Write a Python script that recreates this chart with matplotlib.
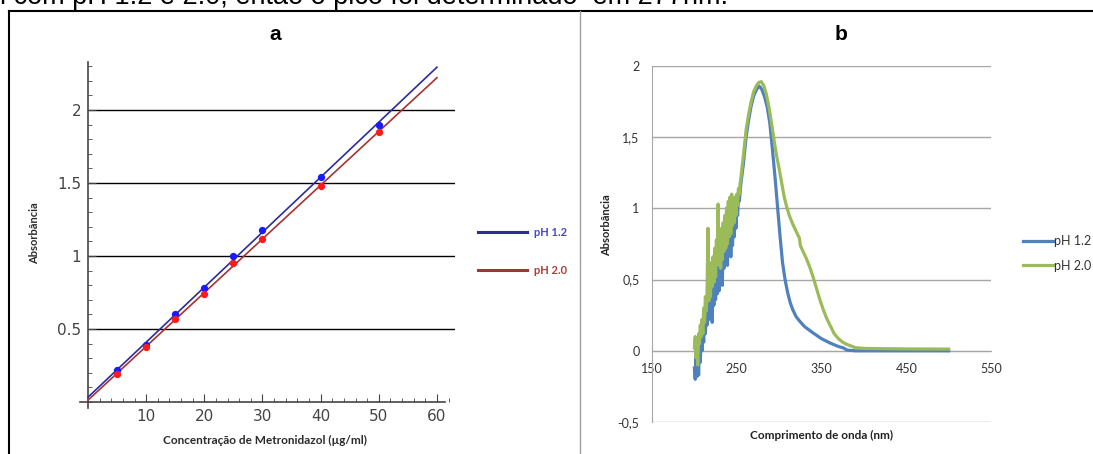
import numpy as np
import matplotlib
matplotlib.use("Agg")
import matplotlib.pyplot as plt
from matplotlib.lines import Line2D
from matplotlib.ticker import MultipleLocator, FuncFormatter

# --- panel a: calibration curve
conc = [5, 10, 15, 20, 25, 30, 40, 50]
abs_ph12 = [0.22, 0.39, 0.60, 0.78, 1.00, 1.18, 1.54, 1.90]
abs_ph20 = [0.19, 0.38, 0.57, 0.74, 0.95, 1.12, 1.48, 1.85]

# --- panel b: UV spectra
wl_noisy = list(range(200, 255))
blue_noisy = [-0.12, -0.20, -0.05, -0.18, 0.02, -0.17, 0.05, -0.08, 0.12, 0.00,
              0.18, 0.06, 0.25, 0.12, 0.30, 0.18, 0.35, 0.22, 0.40, 0.26,
              0.44, 0.20, 0.48, 0.32, 0.55, 0.36, 0.62, 0.40, 0.66, 0.42,
              0.72, 0.52, 0.78, 0.46, 0.84, 0.58, 0.92, 0.62, 1.00, 0.60,
              0.88, 0.70, 0.95, 0.66, 0.92, 0.74, 0.98, 0.80, 1.02, 0.86,
              1.05, 0.95, 1.08, 1.05, 1.12]
green_noisy = [0.02, 0.10, -0.05, 0.08, -0.10, 0.12, 0.05, 0.18, 0.10, 0.22,
               0.12, 0.30, 0.20, 0.38, 0.28, 0.42, 0.86, 0.35, 0.55, 0.38,
               0.62, 0.45, 0.66, 0.48, 0.72, 0.52, 0.78, 0.60, 1.03, 0.62,
               0.82, 0.58, 0.86, 0.64, 0.90, 0.70, 0.95, 0.72, 1.00, 0.75,
               1.05, 0.80, 1.08, 0.82, 1.10, 0.88, 1.06, 0.90, 1.08, 0.95,
               1.10, 1.02, 1.14, 1.10, 1.18]

wl_blue_smooth = [255, 258, 261, 264, 267, 270, 273, 276, 278, 280, 283, 286, 289,
                  292, 295, 298, 301, 304, 307, 310, 313, 316, 320, 324, 330, 339,
                  350, 360, 370, 376, 380, 390, 400, 450, 500]
blue_smooth = [1.18, 1.32, 1.50, 1.62, 1.72, 1.79, 1.83, 1.86, 1.85, 1.83, 1.78, 1.71, 1.60,
               1.42, 1.23, 1.02, 0.81, 0.62, 0.50, 0.41, 0.34, 0.29, 0.24, 0.21, 0.17, 0.13,
               0.085, 0.055, 0.03, 0.02, 0.005, 0.0, 0.0, 0.0, 0.0]

wl_green_smooth = [255, 258, 261, 264, 267, 270, 273, 276, 279, 282, 285, 288, 291,
                   294, 297, 300, 303, 306, 309, 312, 316, 320, 324, 325, 328, 332,
                   336, 340, 344, 348, 352, 356, 360, 365, 370, 375, 380, 390, 400,
                   420, 450, 500]
green_smooth = [1.22, 1.38, 1.55, 1.66, 1.75, 1.82, 1.86, 1.885, 1.89, 1.86, 1.80, 1.71, 1.60,
                1.48, 1.37, 1.28, 1.18, 1.08, 1.01, 0.95, 0.89, 0.84, 0.79, 0.74, 0.70, 0.65,
                0.59, 0.52, 0.44, 0.36, 0.29, 0.23, 0.18, 0.12, 0.085, 0.06, 0.045, 0.022, 0.017,
                0.015, 0.013, 0.012]

wl_blue = wl_noisy + wl_blue_smooth
a_blue = blue_noisy + blue_smooth
wl_green = wl_noisy + wl_green_smooth
a_green = green_noisy + green_smooth

W, H = 1093, 454
fig = plt.figure(figsize=(W / 100, H / 100), dpi=100)

def fx(px):
    return px / W

def fy(py):
    return 1 - py / H

# frame and top text (cut off at the top, as in the source page)
fig.text(0, fy(4), "l com pH 1.2 e 2.0, então o pico foi determinado  em 277nm.",
         fontsize=19.5, family="Liberation Sans", va="baseline", ha="left")
fig.add_artist(Line2D([fx(9), 1], [fy(11), fy(11)], color="black", lw=1.5))
fig.add_artist(Line2D([fx(9), fx(9)], [fy(11), 0], color="black", lw=1.5))
fig.add_artist(Line2D([fx(580), fx(580)], [fy(11), 0], color="#a0a0a0", lw=1))

# ---------------- panel a
ax = fig.add_axes([fx(80), fy(408), fx(455) - fx(80), fy(62) - fy(408)])
ax.set_xlim(-1.375, 63.1)
ax.set_ylim(-0.041, 2.329)

p12 = np.polyfit(conc, abs_ph12, 1)
p20 = np.polyfit(conc, abs_ph20, 1)
xx = np.array([0, 60])
ax.hlines([0.5, 1, 1.5, 2], 0, 63.1, color="black", lw=1, zorder=1)
ax.plot(xx, np.polyval(p12, xx), color="#2b2b9e", lw=1.2, label="pH 1.2", zorder=3)
ax.plot(xx, np.polyval(p20, xx), color="#a83232", lw=1.2, label="pH 2.0", zorder=3)
ax.scatter(conc, abs_ph12, color="#1a1aff", s=18, zorder=4)
ax.scatter(conc, abs_ph20, color="#ff1a1a", s=18, zorder=4)

for s in ["top", "right"]:
    ax.spines[s].set_visible(False)
ax.spines["left"].set_position(("data", 0))
ax.spines["bottom"].set_position(("data", 0))
ax.spines["bottom"].set_bounds(-1.375, 61.4)
for s in ["left", "bottom"]:
    ax.spines[s].set_color("#444444")
    ax.spines[s].set_linewidth(1.2)
ax.set_xticks([10, 20, 30, 40, 50, 60])
ax.set_yticks([0.5, 1, 1.5, 2])
ax.set_yticklabels(["0.5", "1", "1.5", "2"])
ax.xaxis.set_minor_locator(MultipleLocator(2))
ax.yaxis.set_minor_locator(MultipleLocator(0.1))
ax.tick_params(which="major", direction="in", length=6, color="#444444",
               labelsize=11, labelcolor="#444444", pad=5)
ax.tick_params(which="minor", direction="in", length=3, color="#444444")
ax.set_facecolor("none")

leg = ax.legend(loc="upper left", bbox_to_anchor=(fx(478), fy(227)),
                bbox_transform=fig.transFigure, frameon=False,
                handlelength=4.4, handletextpad=0.6, labelspacing=2.4,
                borderpad=0, borderaxespad=0, prop={"family": "Lato", "weight": "bold", "size": 8})
for t, c in zip(leg.get_texts(), ["#4545c8", "#b03a3a"]):
    t.set_color(c)
for l in leg.get_lines():
    l.set_linewidth(2.2)

fig.text(fx(275), fy(35), "a", fontsize=15, fontweight="bold",
         family="Liberation Sans", ha="center", va="center")
fig.text(fx(265), fy(440), "Concentração de Metronidazol (µg/ml)", fontsize=8.5,
         fontweight="bold", family="Lato", color="#2a2a2a", ha="center", va="center")
fig.text(fx(35), fy(233), "Absorbância", fontsize=8, fontweight="bold", family="Lato",
         color="#2a2a2a", rotation=90, ha="center", va="center")

# ---------------- panel b
bx = fig.add_axes([fx(652), fy(422), fx(991) - fx(652), fy(66) - fy(422)])
bx.set_xlim(150, 550)
bx.set_ylim(-0.5, 2)
bx.plot(wl_blue, a_blue, color="#4f81bd", lw=2.3, label="pH 1.2", zorder=3)
bx.plot(wl_green, a_green, color="#9bbb59", lw=2.3, label="pH 2.0", zorder=4)

bx.set_yticks([-0.5, 0, 0.5, 1, 1.5, 2])
bx.set_xticks([150, 250, 350, 450, 550])
bx.yaxis.set_major_formatter(FuncFormatter(lambda v, p: ("%g" % v).replace(".", ",")))
bx.grid(axis="y", color="#a6a6a6", lw=1)
for s in ["top", "right"]:
    bx.spines[s].set_visible(False)
bx.spines["bottom"].set_position(("data", 0))
bx.spines["bottom"].set_color("#a6a6a6")
bx.spines["left"].set_color("#a6a6a6")
bx.tick_params(axis="y", length=0, pad=9, labelsize=9, labelcolor="#333333")
bx.tick_params(axis="x", length=0, pad=9, labelsize=9, labelcolor="#333333")
for lab in bx.get_xticklabels() + bx.get_yticklabels():
    lab.set_family("Lato")

leg2 = bx.legend(loc="upper left", bbox_to_anchor=(fx(1023), fy(235)),
                 bbox_transform=fig.transFigure, frameon=False,
                 handlelength=2.5, handletextpad=0.0, labelspacing=1.0,
                 borderpad=0, borderaxespad=0, prop={"family": "Lato", "size": 9})
for t in leg2.get_texts():
    t.set_color("#333333")

fig.text(fx(841), fy(35), "b", fontsize=15, fontweight="bold",
         family="Liberation Sans", ha="center", va="center")
fig.text(fx(822), fy(435), "Comprimento de onda (nm)", fontsize=8.5, fontweight="bold",
         family="Lato", color="#222222", ha="center", va="center")
fig.text(fx(607), fy(225), "Absorbância", fontsize=8, fontweight="bold", family="Lato",
         color="#222222", rotation=90, ha="center", va="center")

fig.savefig("out.png", dpi=100)
